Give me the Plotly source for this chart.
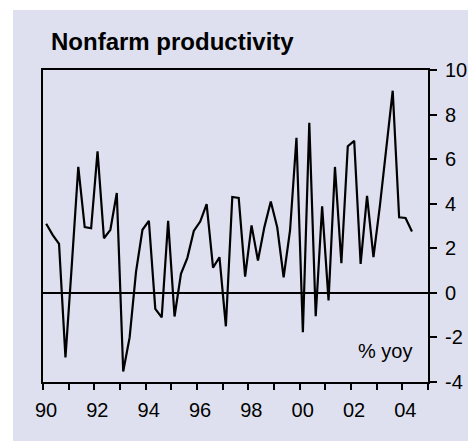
import plotly.graph_objects as go

# quarterly series, 1990Q1 .. 2004Q2
start_year = 1990
quarter_count = 58
productivity = [
    3.1, 2.6, 2.2, -2.9, 1.3, 5.65, 2.95, 2.9,
    6.35, 2.45, 2.83, 4.48, -3.53, -2.0, 0.95, 2.83,
    3.23, -0.72, -1.1, 3.23, -1.06, 0.85, 1.57, 2.78,
    3.2, 3.98, 1.13, 1.6, -1.5, 4.3, 4.26, 0.73,
    3.03, 1.45, 2.95, 4.1, 2.95, 0.7, 2.8, 6.96,
    -1.77, 7.63, -1.05, 3.88, -0.34, 5.65, 1.33, 6.58,
    6.82, 1.3, 4.35, 1.6, 3.9, 6.4, 9.07, 3.39,
    3.36, 2.75,
]
years = list(range(1990, 2006))
year_labels = ["90", "", "92", "", "94", "", "96", "", "98", "",
               "00", "", "02", "", "04", ""]
y_ticks = [-4, -2, 0, 2, 4, 6, 8, 10]
y_labels = ["-4", "-2", "0", "2", "4", "6", "8", "10"]

# quarter midpoints
quarters = [start_year + i // 4 + ((i % 4) + 0.5) / 4 for i in range(quarter_count)]

bg = "#dfe0ef"
font = "Liberation Sans, Arial, sans-serif"

fig = go.Figure()
fig.add_trace(go.Scatter(x=quarters, y=productivity, mode="lines",
                         line=dict(color="black", width=2.2), hoverinfo="skip"))

# lavender panel behind everything
fig.add_shape(type="rect", xref="paper", yref="paper",
              x0=(13 - 43) / 385, x1=(470 - 43) / 385,
              y0=-(61 / 312), y1=1 + 60 / 312,
              fillcolor=bg, line=dict(width=0), layer="below")

fig.add_annotation(text="<b>Nonfarm productivity</b>", xref="paper", yref="paper",
                   x=(49 - 43) / 385, y=(382 - 41) / 312, xanchor="left", yanchor="middle",
                   showarrow=False, font=dict(family=font, size=24, color="black"))
fig.add_annotation(text="% yoy", xref="paper", yref="paper",
                   x=(414 - 43) / 385, y=(382 - 351) / 312, xanchor="right", yanchor="middle",
                   showarrow=False, font=dict(family=font, size=20, color="black"))

fig.update_xaxes(range=[1990, 2005], tickvals=years, ticktext=year_labels,
                 ticks="outside", ticklen=6, tickwidth=2, tickcolor="black",
                 showline=True, linecolor="black", linewidth=2, mirror=True,
                 showgrid=False, zeroline=False,
                 ticklabelshift=3, ticklabelstandoff=3,
                 tickfont=dict(family=font, size=20, color="black"))
fig.update_yaxes(range=[-4, 10], tickvals=y_ticks, ticktext=y_labels, side="right",
                 ticks="outside", ticklen=7, tickwidth=2, tickcolor="black",
                 showline=True, linecolor="black", linewidth=2, mirror=True,
                 showgrid=False, zeroline=True, zerolinecolor="black", zerolinewidth=2,
                 ticklabelstandoff=4,
                 tickfont=dict(family=font, size=20, color="black"))

fig.update_layout(width=468, height=441, showlegend=False,
                  margin=dict(l=43, r=40, t=70, b=59, autoexpand=False),
                  paper_bgcolor="white", plot_bgcolor="rgba(0,0,0,0)")

# drop the browser's default 8px body margin so the figure sits at (0, 0)
fig.write_html("out.html", config={"displayModeBar": False},
               post_script="document.body.style.margin='0';")
